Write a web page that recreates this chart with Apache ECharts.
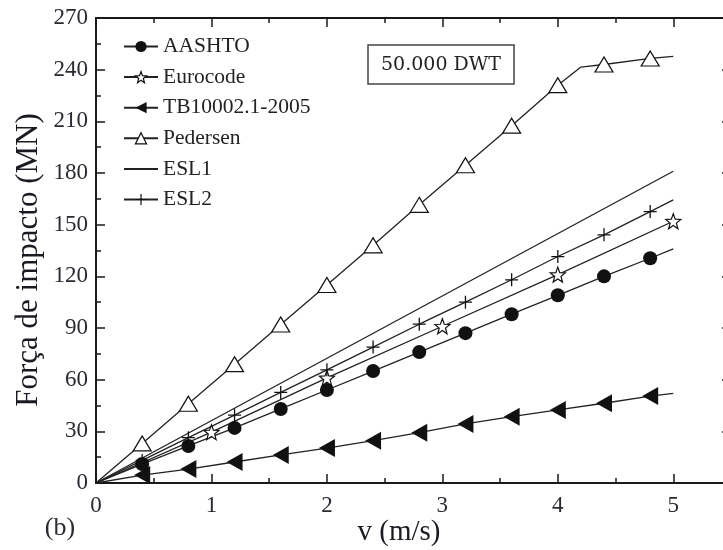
<!DOCTYPE html>
<html>
<head>
<meta charset="utf-8">
<script src="https://cdn.jsdelivr.net/npm/echarts@6/dist/echarts.min.js"></script>
<style>html,body{margin:0;padding:0;background:#fff}#c{width:723px;height:550px}</style>
</head>
<body>
<div id="c"></div>
<script>
// ---- data ----
const seriesNames = ['AASHTO', 'Eurocode', 'TB10002.1-2005', 'Pedersen', 'ESL1', 'ESL2'];
const xTickLabels = [0, 1, 2, 3, 4, 5];
const yTickLabels = [0, 30, 60, 90, 120, 150, 180, 210, 240, 270];

const aashtoV = [0, 0.4, 0.8, 1.2, 1.6, 2.0, 2.4, 2.8, 3.2, 3.6, 4.0, 4.4, 4.8, 5.0];
const aashtoF = [0, 11, 21.5, 32, 43, 54, 65, 76, 87, 98, 109, 120, 130.5, 136];

const eurocodeV = [0, 1, 2, 3, 4, 5];
const eurocodeF = [0, 29.5, 61, 91, 121, 152];

const tbV = [0, 0.4, 0.8, 1.2, 1.6, 2.0, 2.4, 2.8, 3.2, 3.6, 4.0, 4.4, 4.8, 5.0];
const tbF = [0, 4.6, 8.1, 12.2, 16.3, 20.3, 24.6, 29.2, 34.3, 38.5, 42.4, 46.3, 50.5, 52.1];

const pedersenV = [0, 0.4, 0.8, 1.2, 1.6, 2.0, 2.4, 2.8, 3.2, 3.6, 4.0, 4.2, 4.4, 4.8, 5.0];
const pedersenF = [0, 23, 46, 69, 92, 115, 138, 161.5, 184.5, 207.5, 231, 241.5, 243, 246.5, 247.7];

const esl1V = [0, 5];
const esl1F = [0, 181];

const esl2V = [0, 0.4, 0.8, 1.2, 1.6, 2.0, 2.4, 2.8, 3.2, 3.6, 4.0, 4.4, 4.8, 5.0];
const esl2F = [0, 13.1, 26.3, 39.4, 52.6, 65.7, 78.9, 92.2, 105, 118, 131.5, 144.1, 157.6, 164.4];

// ---- helpers ----
const onStep = v => v > 0 && v < 5 && Math.abs(v / 0.4 - Math.round(v / 0.4)) < 1e-6;
const positive = v => v > 0;
function build(vs, fs, marked) {
  return vs.map((v, i) => marked(v) ? { value: [v, fs[i]] } : { value: [v, fs[i]], symbol: 'none' });
}
function starPath() {
  let d = '';
  for (let k = 0; k < 10; k++) {
    const r = k % 2 === 0 ? 10 : 4.2;
    const a = -Math.PI / 2 + k * Math.PI / 5;
    d += (k === 0 ? 'M' : 'L') + (10 + r * Math.cos(a)).toFixed(2) + ',' + (10 + r * Math.sin(a)).toFixed(2);
  }
  return 'path://' + d + 'Z';
}

const ink = '#1a1a1a';
const lineStyle = { color: '#222', width: 1.3 };
const serif = '"Liberation Serif", "Times New Roman", serif';

const axisCommon = {
  axisLine: { show: true, onZero: false, lineStyle: { color: ink, width: 2 } },
  axisTick: { show: true, inside: true, length: 9, lineStyle: { color: ink, width: 1.5 } },
  minorTick: { show: true, splitNumber: 2, length: 5, lineStyle: { color: ink, width: 1.5 } },
  splitLine: { show: false },
  minorSplitLine: { show: false }
};
const labelStyle = { fontFamily: serif, fontSize: 23, color: '#2a2a33' };

const chart = echarts.init(document.getElementById('c'), null, { renderer: 'canvas' });
chart.setOption({
  animation: false,
  backgroundColor: '#fff',
  grid: { left: 96, right: -8, top: 18, bottom: 67, containLabel: false, outerBoundsMode: 'none' },
  xAxis: [
    Object.assign({ type: 'value', min: 0, max: 5.5, interval: 1, position: 'bottom',
      axisLabel: Object.assign({ margin: 11, formatter: v => xTickLabels.includes(v) ? String(v) : '' }, labelStyle) }, axisCommon),
    Object.assign({ type: 'value', min: 0, max: 5.5, interval: 1, position: 'top',
      axisLabel: { show: false } }, axisCommon)
  ],
  yAxis: [
    Object.assign({ type: 'value', min: 0, max: 270, interval: 30, position: 'left',
      axisLabel: Object.assign({ margin: 8, formatter: v => yTickLabels.includes(v) ? String(v) : '' }, labelStyle) }, axisCommon),
    Object.assign({ type: 'value', min: 0, max: 270, interval: 30, position: 'right',
      axisLabel: { show: false } }, axisCommon)
  ],
  legend: {
    orient: 'vertical', left: 118, top: 30.5,
    itemWidth: 34, itemHeight: 14, itemGap: 8.6,
    selectedMode: false,
    data: seriesNames.map(n => n === 'ESL1' ? { name: n, itemStyle: { opacity: 0 } } : n),
    textStyle: { fontFamily: serif, fontSize: 21.5, color: '#222', lineHeight: 21 },
    itemStyle: { borderWidth: 1.2 }
  },
  series: [
    { name: seriesNames[0], type: 'line', data: build(aashtoV, aashtoF, onStep),
      symbol: 'circle', symbolSize: 14, itemStyle: { color: '#111' }, lineStyle, silent: true, z: 3 },
    { name: seriesNames[1], type: 'line', data: build(eurocodeV, eurocodeF, positive),
      symbol: starPath(), symbolSize: 15, itemStyle: { color: '#fff', borderColor: '#111', borderWidth: 1.2 }, lineStyle, silent: true, z: 3 },
    { name: seriesNames[2], type: 'line', data: build(tbV, tbF, onStep),
      symbol: 'triangle', symbolRotate: 90, symbolSize: [18, 16], itemStyle: { color: '#111' }, lineStyle, silent: true, z: 3 },
    { name: seriesNames[3], type: 'line', data: build(pedersenV, pedersenF, onStep),
      symbol: 'triangle', symbolSize: [18, 15], itemStyle: { color: '#fff', borderColor: '#111', borderWidth: 1.2 }, lineStyle, silent: true, z: 3 },
    { name: seriesNames[4], type: 'line', data: build(esl1V, esl1F, () => false),
      symbol: 'circle', showSymbol: false, itemStyle: { color: '#111' }, lineStyle, silent: true, z: 2 },
    { name: seriesNames[5], type: 'line', data: build(esl2V, esl2F, onStep),
      symbol: 'path://M0,5L10,5M5,0L5,10', symbolSize: 13, itemStyle: { color: 'none', borderColor: '#111', borderWidth: 1.3 }, lineStyle, silent: true, z: 3 }
  ],
  graphic: [
    { type: 'rect', shape: { x: 368, y: 45, width: 146, height: 39 },
      style: { fill: '#fff', stroke: '#444', lineWidth: 1.5 }, z: 10 },
    { type: 'text', x: 441, y: 65, z: 11,
      style: { text: '50.000 DWT', font: '19px "DejaVu Serif", serif', fill: '#222', align: 'center', verticalAlign: 'middle' } },
    { type: 'text', x: 399, y: 532, z: 11,
      style: { text: 'v (m/s)', font: '29px "Liberation Serif", serif', fill: '#1a1a22', align: 'center', verticalAlign: 'middle' } },
    { type: 'text', x: 29, y: 260, rotation: Math.PI / 2, z: 11,
      style: { text: 'Força de impacto (MN)', font: '31px "Liberation Serif", serif', fill: '#1a1a22', align: 'center', verticalAlign: 'middle' } },
    { type: 'text', x: 60, y: 528, z: 11,
      style: { text: '(b)', font: '26px "Liberation Serif", serif', fill: '#2a2a33', align: 'center', verticalAlign: 'middle' } }
  ]
});
</script>
</body>
</html>
